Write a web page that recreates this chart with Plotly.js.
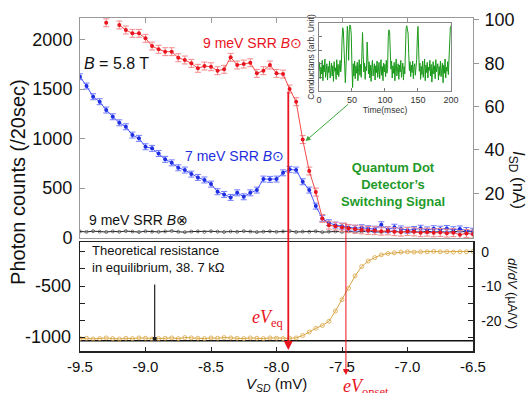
<!DOCTYPE html>
<html><head><meta charset="utf-8">
<script src="https://cdn.plot.ly/plotly-3.0.1.min.js"></script>
<style>html,body{margin:0;padding:0;background:#fff;} #chart{width:529px;height:393px;}</style>
</head><body><div id="chart"></div>
<script>
// ---------- data ----------
const redV = [-9.30,-9.25,-9.20,-9.15,-9.10,-9.05,-9.00,-8.95,-8.90,-8.85,-8.80,-8.75,-8.70,-8.65,-8.60,-8.55,-8.50,-8.45,-8.40,-8.35,-8.30,-8.25,-8.20,-8.15,-8.10,-8.05,-8.00,-7.95,-7.90,-7.85,-7.80,-7.75,-7.70,-7.65,-7.60,-7.55,-7.50,-7.45,-7.40,-7.35,-7.30,-7.25,-7.20,-7.15,-7.10,-7.05,-7.00,-6.95,-6.90,-6.85,-6.80,-6.75,-6.70,-6.65,-6.60,-6.55,-6.50];
const redCounts = [2169,null,2146,2096,2062,2062,2012,1934,1901,1877,1877,1816,1793,1759,1709,1732,1725,1685,1699,1820,1742,1752,1765,1658,1685,1742,1658,1651,1500,1372,990,672,460,194,126,116,103,93,85,78,72,70,65,68,60,55,62,58,50,55,48,52,45,50,30,42,35];
const redErr = 40;

const sweepV = [-9.50,-9.45,-9.40,-9.35,-9.30,-9.25,-9.20,-9.15,-9.10,-9.05,-9.00,-8.95,-8.90,-8.85,-8.80,-8.75,-8.70,-8.65,-8.60,-8.55,-8.50,-8.45,-8.40,-8.35,-8.30,-8.25,-8.20,-8.15,-8.10,-8.05,-8.00,-7.95,-7.90,-7.85,-7.80,-7.75,-7.70,-7.65,-7.60,-7.55,-7.50,-7.45,-7.40,-7.35,-7.30,-7.25,-7.20,-7.15,-7.10,-7.05,-7.00,-6.95,-6.90,-6.85,-6.80,-6.75,-6.70,-6.65,-6.60,-6.55,-6.50];
const blueCounts = [1624,1530,1422,1372,1288,1220,1159,1119,1035,1002,917,901,850,790,755,705,682,641,608,582,540,463,436,406,452,412,452,480,591,588,591,654,689,682,564,480,318,194,150,126,116,99,95,100,90,85,130,80,105,88,75,82,95,78,90,85,92,80,88,72,65];
const blueErr = 30;
const blackCounts = [62,58,65,60,57,63,59,66,61,56,64,60,58,62,67,59,55,61,63,58,64,60,57,62,59,65,61,56,60,63,58,62,66,57,61,59,64,55,60,62,58,63,57,61,65,59,56,62,60,64,58,61,57,63,59,62,56,60,64,58,61];
const didv = [-25.2,-25.1,-25.3,-25.2,-25.0,-25.2,-25.3,-25.1,-25.2,-25.0,-25.1,-25.3,-25.2,-25.1,-25.0,-25.2,-24.9,-25.0,-25.1,-25.2,-25.0,-25.1,-24.9,-25.0,-25.1,-25.2,-25.0,-25.1,-25.2,-25.0,-25.1,-25.2,-25.1,-25.0,-24.3,-23.3,-22.2,-21.4,-20.2,-17.2,-13.9,-10.6,-7.0,-4.3,-2.7,-1.7,-0.9,-0.5,-0.3,-0.1,0.0,-0.1,0.0,0.0,0.1,0.0,0.0,-0.1,0.0,0.0,0.1];
const theoreticalResistanceKOhm = 38.7;
const theoreticalMarkerV = -8.93;
const Veq = -7.91;
const Vonset = -7.47;

const insetTimeStepMs = 1;
const insetSignal = [0.30,0.42,0.18,0.35,0.25,0.45,0.15,0.38,0.28,0.47,0.20,0.33,0.40,0.16,0.36,0.27,0.44,0.19,0.31,0.41,0.22,0.37,0.14,0.43,0.29,0.34,0.17,0.46,0.24,0.39,0.21,
 0.33,0.45,0.28,0.40, 0.75,0.93,0.88,0.60, 0.30,0.12,0.36, 0.85,0.95,0.80, 0.45, 0.90,0.97,0.94,0.82,
 0.35,0.05,0.40,0.22,0.44,0.18,0.37,0.26,0.42,0.15,0.33,0.46,0.23,0.39,0.20, 0.82,0.86,0.55, 0.28,0.41,0.17,0.36,0.30, 0.72,0.50,
 0.25,0.43,0.19,0.38,0.14,0.35,0.45,0.22,0.31,0.40,0.16,0.37,0.27,0.44,0.20,0.34,0.42,0.18,0.30,0.46,0.23,0.36,0.15,0.41,0.28,0.39,0.21,0.45,0.26,0.33,
 0.80,0.90,0.87,0.60,
 0.32,0.44,0.19,0.37,0.26,0.42,0.15,0.35,0.47,0.22,0.30,0.40,0.17,0.38,0.28,0.45,0.20,0.34,0.41,0.16,0.36,0.25,
 0.75,0.92,0.96,0.90,0.85,0.55,
 0.30,0.43,0.21,0.38,0.27,0.44,0.18,0.35,0.40,0.23,0.33,0.46,
 0.78,0.95,0.62,
 0.29,0.41,0.17,0.36,0.24,0.44,0.20,0.33,0.47,0.15,0.38,0.27,0.42,0.19,0.35,0.30,0.45,0.22,0.39,0.13,0.34,0.43,0.25,0.37,0.18,0.46,0.28,0.32,0.40,0.16,0.36,0.23,0.44,0.21,0.31,0.41,0.12,0.38,0.26,0.47,0.19,0.35,0.29,0.43,0.24,
 0.55,0.80,0.93,0.96];

const xTicks = [-9.5,-9.0,-8.5,-8.0,-7.5,-7.0,-6.5];
const xTickText = ['-9.5','-9.0','-8.5','-8.0','-7.5','-7.0','-6.5'];
const countTicks = [0,500,1000,1500,2000];
const currentTicks = [20,40,60,80,100];
const lowCountTicks = [-500,-1000];
const lowCountText = ['-500','-1000'];
const didvTicks = [0,-5,-10,-15,-20,-25];
const didvTickText = ['0','','-10','','-20',''];
const insetTicks = [0,50,100,150,200];

// ---------- traces ----------
const insetTime = insetSignal.map((_, i) => i * insetTimeStepMs);
const noValues = sweepV.map(() => null);
const RED='#e8141e', BLUE='#1f2ee0', GREEN='#1f9a2a', GOLD='#d9a441';

const traces = [
  {x: sweepV, y: blackCounts, xaxis:'x2', yaxis:'y', mode:'lines+markers',
   line:{color:'#222', width:1}, marker:{symbol:'circle-open', size:3, color:'#555', line:{width:0.8}}},
  {x: sweepV, y: blueCounts, xaxis:'x2', yaxis:'y', mode:'lines+markers',
   line:{color:'#4a57ff', width:1}, marker:{color:BLUE, size:4},
   error_y:{type:'constant', value:blueErr, color:'#6f7bff', thickness:1, width:3}},
  {x: redV, y: redCounts, xaxis:'x2', yaxis:'y', mode:'lines+markers', connectgaps:false,
   line:{color:'#f24a4a', width:1}, marker:{color:RED, size:4},
   error_y:{type:'constant', value:redErr, color:'#f28a8a', thickness:1, width:3}},
  {x: sweepV, y: didv, xaxis:'x', yaxis:'y4', mode:'lines+markers',
   line:{color:GOLD, width:1}, marker:{symbol:'circle-open', size:4, color:GOLD, line:{width:0.8}}},
  {x: insetTime, y: insetSignal, xaxis:'x3', yaxis:'y5', mode:'lines',
   line:{color:'#1a9a1a', width:1}},
  // empty traces so the secondary axes are drawn
  {x: sweepV, y: noValues, xaxis:'x2', yaxis:'y2', mode:'lines', hoverinfo:'skip'},
  {x: sweepV, y: noValues, xaxis:'x', yaxis:'y6', mode:'lines', hoverinfo:'skip'}
];

const axBase = {showgrid:false, zeroline:false, showline:true};
const C = {xref:'paper', yref:'paper', showarrow:false, xanchor:'center', yanchor:'middle'};
const ann = (o) => Object.assign({}, C, o);
const layout = {
  width:529, height:393,
  margin:{l:80, r:56, t:18, b:42},
  paper_bgcolor:'#fff', plot_bgcolor:'#fff',
  showlegend:false,
  font:{family:'Liberation Sans, Arial, sans-serif', color:'#111'},
  xaxis:Object.assign({}, axBase, {domain:[0,1], anchor:'y3', range:[-9.5,-6.5],
    tickvals:xTicks, ticktext:xTickText, ticks:'inside', ticklen:4, tickcolor:'#222',
    linecolor:'#222', linewidth:1.5, mirror:true, tickfont:{size:15}, ticklabelstandoff:1}),
  xaxis2:Object.assign({}, axBase, {domain:[0,1], anchor:'y', range:[-9.5,-6.5], side:'top',
    tickvals:xTicks, showticklabels:false, ticks:'inside', ticklen:5, tickcolor:'#999',
    linecolor:'#999', linewidth:1, mirror:true}),
  yaxis:Object.assign({}, axBase, {domain:[0.339,1], anchor:'x2', range:[-5,2217],
    tickvals:countTicks, ticks:'inside', ticklen:5, tickcolor:'#999', linecolor:'#999',
    tickfont:{size:18}, ticklabelstandoff:3}),
  yaxis2:Object.assign({}, axBase, {overlaying:'y', anchor:'x2', side:'right', range:[-0.7,100.9],
    tickvals:currentTicks, ticks:'outside', ticklen:5, tickcolor:'#999', linecolor:'#999',
    tickfont:{size:18}, ticklabelstandoff:2}),
  yaxis3:Object.assign({}, axBase, {domain:[0,0.327], anchor:'x', range:[-28.8,2.8],
    tickvals:didvTicks, showticklabels:false, ticks:'inside', ticklen:5, tickcolor:'#222',
    linecolor:'#222', linewidth:1.5}),
  yaxis4:Object.assign({}, axBase, {overlaying:'y3', anchor:'x', side:'right', range:[-28.8,2.8],
    tickvals:didvTicks, ticktext:didvTickText, ticks:'inside', ticklen:5, tickcolor:'#222',
    linecolor:'#222', linewidth:1.5, tickfont:{size:14}, ticklabelstandoff:4}),
  yaxis6:{overlaying:'y3', anchor:'x', side:'left', range:[-1137,-69], showgrid:false, zeroline:false,
    showline:false, ticks:'', tickvals:lowCountTicks, ticktext:lowCountText, tickfont:{size:18}, ticklabelstandoff:8},
  xaxis3:Object.assign({}, axBase, {domain:[0.608,0.944], anchor:'y5', range:[0,200],
    tickvals:insetTicks, ticks:'inside', ticklen:3, tickcolor:'#777', linecolor:'#888', mirror:true,
    tickfont:{size:9, color:'#333'}, ticklabelstandoff:0,
    title:{text:'Time(msec)', font:{size:8.5, color:'#333'}, standoff:1}}),
  yaxis5:Object.assign({}, axBase, {domain:[0.781,0.985], anchor:'x3', range:[0,1],
    tickvals:[0.2,0.4,0.6,0.8], showticklabels:false, ticks:'inside', ticklen:3, tickcolor:'#777',
    linecolor:'#888', mirror:true,
    title:{text:'Conductans (arb. Unit)', font:{size:8.5, color:'#333'}, standoff:1}}),
  shapes:[
    {type:'line', xref:'x domain', yref:'y3', x0:0, x1:1,
     y0:-1000/theoreticalResistanceKOhm, y1:-1000/theoreticalResistanceKOhm,
     line:{color:'#111', width:1.5}, layer:'below'}
  ],
  annotations:[
    ann({x:0.4377, y:0.925, text:'9 meV SRR <i>B</i>\u2299', font:{size:14, color:RED}}),
    ann({x:0.094, y:0.862, text:'<i>B</i> = 5.8 T', font:{size:16, color:'#111'}}),
    ann({x:0.392, y:0.586, text:'7 meV SRR <i>B</i>\u2299', font:{size:14, color:BLUE}}),
    ann({x:0.1476, y:0.393, text:'9 meV SRR <i>B</i>\u2297', font:{size:14, color:'#111'}}),
    ann({x:0.796, y:0.4985, text:'<b>Quantum Dot<br>Detector\u2019s<br>Switching Signal</b>', font:{size:13, color:GREEN}}),
    ann({x:0.0254, y:0.275, xanchor:'left', align:'left',
     text:'Theoretical resistance<br>in equilibrium, 38. 7 k\u03A9', font:{size:13, color:'#111'}}),
    ann({x:0.478, y:0.099, text:'<i>eV</i><sub>eq</sub>', font:{size:18, color:RED, family:'Liberation Serif, DejaVu Serif, serif'}}),
    ann({x:0.728, y:-0.11, text:'<i>eV</i><sub>onset</sub>', font:{size:18, color:RED, family:'Liberation Serif, DejaVu Serif, serif'}}),
    ann({x:-0.158, y:0.5075, textangle:-90, text:'Photon counts (/20sec)', font:{size:20, color:'#111'}}),
    ann({x:1.112, y:0.5135, textangle:90, text:'<i>I</i><sub>SD</sub> (nA)', font:{size:17, color:'#111'}}),
    ann({x:1.102, y:0.174, textangle:90, text:'<i>dI/dV</i> (\u00B5A/V)', font:{size:13, color:'#111'}}),
    ann({x:0.499, y:-0.1, text:'<i>V</i><sub><i>SD</i></sub> (mV)', font:{size:15, color:'#111'}}),
    // arrows
    {xref:'x', yref:'paper', x:Veq, y:0.003, ax:0, ay:-260, text:'', showarrow:true,
     arrowcolor:RED, arrowwidth:1.8, arrowhead:2, arrowsize:1},
    {xref:'x', yref:'paper', x:Vonset, y:-0.072, ax:0, ay:-154, text:'', showarrow:true,
     arrowcolor:RED, arrowwidth:1, arrowhead:2, arrowsize:1.2},
    {xref:'x2', yref:'y', x:-7.778, y:975, ax:44, ay:-38, text:'', showarrow:true,
     arrowcolor:'#3aa83a', arrowwidth:1, arrowhead:2, arrowsize:1},
    {xref:'x', yref:'y3', x:theoreticalMarkerV, y:-25.3, ax:0, ay:-56, text:'', showarrow:true,
     arrowcolor:'#222', arrowwidth:1.2, arrowhead:7, arrowsize:0.8}
  ]
};

Plotly.newPlot('chart', traces, layout, {staticPlot:true, displayModeBar:false});
</script>
</body></html>
